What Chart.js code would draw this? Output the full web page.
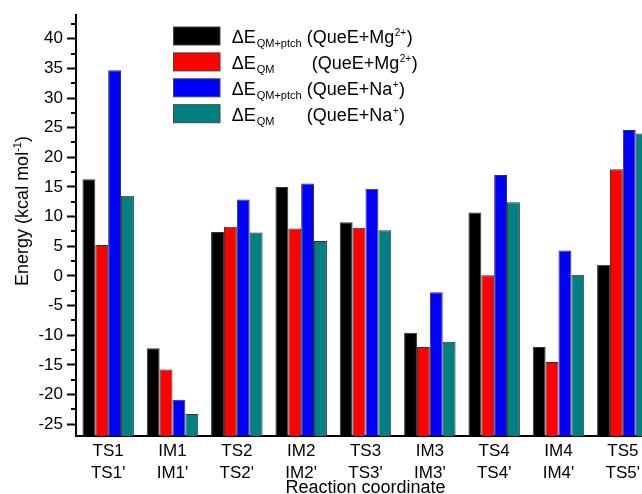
<!DOCTYPE html>
<html><head><meta charset="utf-8">
<script src="https://cdn.jsdelivr.net/npm/chart.js@4"></script>
<style>html,body{margin:0;padding:0;overflow:hidden;background:#fff}canvas{display:block}</style>
</head><body>
<canvas id="c" width="660" height="494" style="width:660px;height:494px"></canvas>
<script>
const categories = [['TS1',"TS1'"],['IM1',"IM1'"],['TS2',"TS2'"],['IM2',"IM2'"],['TS3',"TS3'"],['IM3',"IM3'"],['TS4',"TS4'"],['IM4',"IM4'"],['TS5',"TS5'"]];
const mgQmPtch = [16.3, -12.2, 7.4, 15.0, 9.05, -9.6, 10.7, -12.0, 1.9];
const mgQm     = [5.2, -15.8, 8.3, 8.0, 8.1, -12.0, 0.1, -14.5, 18.0];
const naQmPtch = [34.7, -20.9, 12.9, 15.6, 14.7, -2.75, 17.0, 4.3, 24.6];
const naQm     = [13.5, -23.3, 7.3, 5.9, 7.7, -11.1, 12.4, 0.2, 24.0];
const yTicks = [-25,-20,-15,-10,-5,0,5,10,15,20,25,30,35,40];
const yMinorTicks = [-22.5,-17.5,-12.5,-7.5,-2.5,2.5,7.5,12.5,17.5,22.5,27.5,32.5,37.5,42.5];
const legendMain = ['\u0394E','\u0394E','\u0394E','\u0394E'];
const legendSub = ['QM+ptch','QM','QM+ptch','QM'];
const legendSystem = ['(QueE+Mg','(QueE+Mg','(QueE+Na','(QueE+Na'];
const legendCharge = ['2+','2+','+','+'];
const xTitle = 'Reaction coordinate';
const yTitleMain = 'Energy (kcal mol';
const yTitleSup = '-1';
const yTitleEnd = ')';

const FONT = '"Liberation Sans", Arial, sans-serif';
Chart.defaults.font.family = FONT;
Chart.defaults.color = '#000';

function f(size){ return size + 'px ' + FONT; }

const extras = {
  id: 'extras',
  afterDraw(chart) {
    const ctx = chart.ctx;
    const y = chart.scales.y;
    const area = chart.chartArea;
    ctx.save();
    ctx.strokeStyle = '#000';
    ctx.lineWidth = 2;
    yMinorTicks.forEach(v => {
      const py = Math.round(y.getPixelForValue(v));
      ctx.beginPath();
      ctx.moveTo(area.left - 5, py);
      ctx.lineTo(area.left, py);
      ctx.stroke();
    });
    ctx.fillStyle = '#000';
    ctx.font = f(18);
    ctx.textAlign = 'center';
    ctx.textBaseline = 'alphabetic';
    ctx.fillText(xTitle, (area.left + area.right) / 2, 493);
    ctx.save();
    ctx.translate(28, 211);
    ctx.rotate(-Math.PI / 2);
    ctx.textAlign = 'left';
    ctx.font = f(18); const w1 = ctx.measureText(yTitleMain).width;
    ctx.font = f(11); const w2 = ctx.measureText(yTitleSup).width;
    ctx.font = f(18); const w3 = ctx.measureText(yTitleEnd).width;
    let x0 = -(w1 + w2 + w3) / 2;
    ctx.font = f(18); ctx.fillText(yTitleMain, x0, 0); x0 += w1;
    ctx.font = f(11); ctx.fillText(yTitleSup, x0, -7); x0 += w2;
    ctx.font = f(18); ctx.fillText(yTitleEnd, x0, 0);
    ctx.restore();
    const sysOffset = [75, 80, 75, 75];
    chart.data.datasets.forEach((ds, i) => {
      const by = 27 + i * 25.9;
      ctx.fillStyle = ds.backgroundColor;
      ctx.fillRect(173.5, by, 46.5, 18);
      ctx.strokeStyle = '#444';
      ctx.lineWidth = 1;
      ctx.strokeRect(173.5, by, 46.5, 18);
      ctx.fillStyle = '#000';
      ctx.textAlign = 'left';
      const bl = 43.3 + i * 25.9;
      const tx = 231.7;
      ctx.font = f(18);
      ctx.fillText(legendMain[i], tx, bl);
      const wm = ctx.measureText(legendMain[i]).width;
      ctx.font = f(11);
      ctx.fillText(legendSub[i], tx + wm + 1, bl + 4);
      const sx = tx + sysOffset[i];
      ctx.font = f(18);
      ctx.fillText(legendSystem[i], sx, bl);
      const ws = ctx.measureText(legendSystem[i]).width;
      ctx.font = f(10);
      ctx.fillText(legendCharge[i], sx + ws + 0.5, bl - 7);
      const wc = ctx.measureText(legendCharge[i]).width;
      ctx.font = f(18);
      ctx.fillText(')', sx + ws + wc + 1, bl);
    });
    ctx.restore();
  }
};

function ds(label, data, color) {
  return { label, data, backgroundColor: color, borderColor: '#333', borderWidth: 1,
           base: -27, categoryPercentage: 0.8, barPercentage: 1.0 };
}

new Chart(document.getElementById('c'), {
  type: 'bar',
  data: {
    labels: categories,
    datasets: [
      ds('\u0394E QM+ptch (QueE+Mg2+)', mgQmPtch, '#000000'),
      ds('\u0394E QM (QueE+Mg2+)', mgQm, '#ff0000'),
      ds('\u0394E QM+ptch (QueE+Na+)', naQmPtch, '#0000ff'),
      ds('\u0394E QM (QueE+Na+)', naQm, '#008080')
    ]
  },
  options: {
    responsive: false,
    devicePixelRatio: 1,
    animation: false,
    layout: { padding: { top: 15, right: 5, left: 0, bottom: 0 } },
    plugins: { legend: { display: false }, tooltip: { enabled: false } },
    scales: {
      x: {
        offset: true,
        grid: { display: false },
        border: { display: true, color: '#000', width: 2 },
        ticks: { color: '#000', font: { size: 17, lineHeight: 1.25 }, padding: -3, maxRotation: 0, autoSkip: false },
        afterFit(s) { s.height = 58; }
      },
      y: {
        min: -27, max: 44,
        grid: { display: true, drawOnChartArea: false, drawTicks: true, tickLength: 9, tickWidth: 2, tickColor: '#000' },
        border: { display: true, color: '#000', width: 2 },
        ticks: { color: '#000', font: { size: 17 }, padding: 4 },
        afterBuildTicks(s) { s.ticks = yTicks.map(v => ({ value: v })); },
        afterFit(s) { s.width = 76; }
      }
    }
  },
  plugins: [extras]
});
</script>
</body></html>
